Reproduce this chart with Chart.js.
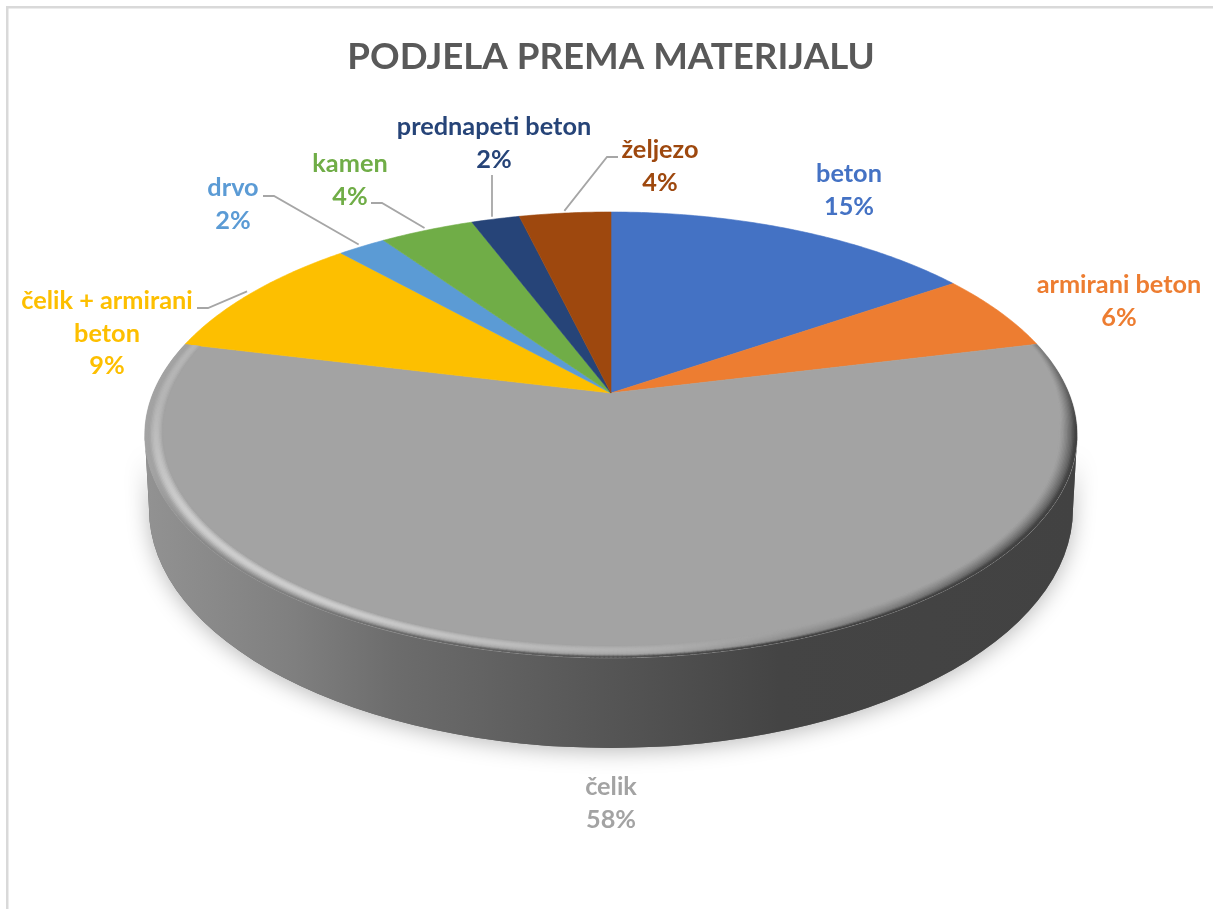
<!DOCTYPE html>
<html>
<head>
<meta charset="utf-8">
<title>Podjela prema materijalu</title>
<script src="https://cdn.jsdelivr.net/npm/chart.js@4/dist/chart.umd.js"></script>
<style>
    html, body { margin: 0; padding: 0; background: #fff; }
    #wrap { width: 1213px; height: 909px; }
</style>
</head>
<body>
<div id="wrap"><canvas id="pieChart" width="1213" height="909"></canvas></div>
<script>
// Chart data
const titleText = 'PODJELA PREMA MATERIJALU';
const categories = ['beton', 'armirani beton', 'čelik', 'čelik + armirani beton', 'drvo', 'kamen', 'prednapeti beton', 'željezo'];
const values = [15.45, 5.7, 57.5, 9.45, 2.0, 3.9, 2.0, 3.8];
const percentLabels = ['15%', '6%', '58%', '9%', '2%', '4%', '2%', '4%'];
const sliceColors = ['#4472c4', '#ed7d31', '#a3a3a3', '#fdbf00', '#5b9bd5', '#70ad47', '#264478', '#9e480e'];

// Label layout: text centre of first line, wrapped lines, leader knee points
const labelLayout = [
    { x: 849, y: 174, lines: ['beton'] },
    { x: 1119, y: 285, lines: ['armirani beton'] },
    { x: 611, y: 787, lines: ['čelik'] },
    { x: 107, y: 301, lines: ['čelik + armirani', 'beton'], knee: [[197, 308], [208, 308]] },
    { x: 233, y: 188, lines: ['drvo'], knee: [[263, 196], [274, 196]] },
    { x: 350, y: 164, lines: ['kamen'], knee: [[371, 203], [382, 203]] },
    { x: 494, y: 127, lines: ['prednapeti beton'], knee: [[492, 175], [492, 175]], vertical: true },
    { x: 660, y: 150, lines: ['željezo'], knee: [[618, 157], [607, 157]] }
];

// Perspective of the disc, relative to the library's outer radius
const persp = { sx: 1.563, sy: 0.734, k: 0.188 };
const rimWidth = 0.034;

function project(arc, angle, r) {
    const R = arc.outerRadius;
    const u = Math.cos(angle) * r;
    const v = Math.sin(angle) * r;
    const d = 1 - persp.k * v;
    return [arc.x + R * persp.sx * u / d, arc.y + R * persp.sy * v / d];
}

function clamp01(x) {
    return Math.max(0, Math.min(1, x));
}

function sidePaint(ctx) {
    const g = ctx.createLinearGradient(145, 0, 1078, 0);
    g.addColorStop(0, '#929292');
    g.addColorStop(0.16, '#7f7f7f');
    g.addColorStop(0.27, '#6c6c6c');
    g.addColorStop(0.49, '#565656');
    g.addColorStop(0.68, '#444444');
    g.addColorStop(1, '#424242');
    return g;
}

function sideGrey(x) {
    const stops = [[145, 146], [294, 127], [397, 108], [602, 86], [779, 68], [1078, 66]];
    for (let i = 1; i < stops.length; i++) {
        if (x <= stops[i][0]) {
            const t = (x - stops[i - 1][0]) / (stops[i][0] - stops[i - 1][0]);
            return stops[i - 1][1] + t * (stops[i][1] - stops[i - 1][1]);
        }
    }
    return 66;
}

function sidePath(ctx, arc) {
    // front of the top rim, right to left, then back along the lower rim
    const from = Math.asin(persp.k);
    const to = Math.PI - from;
    ctx.beginPath();
    for (let a = from; a <= to; a += 0.02) {
        const p = project(arc, a, 1);
        ctx.lineTo(p[0], p[1]);
    }
    const end = project(arc, to, 1);
    ctx.lineTo(end[0], end[1]);
    ctx.ellipse(arc.x, arc.y + 116, 462, 239, 0, Math.PI, 0, true);
    ctx.closePath();
}

function drawSide(ctx, arc) {
    ctx.save();
    ctx.shadowColor = 'rgba(0, 0, 0, 0.28)';
    ctx.shadowBlur = 22;
    ctx.shadowOffsetY = 3;
    ctx.fillStyle = '#666';
    sidePath(ctx, arc);
    ctx.fill();
    ctx.restore();

    ctx.fillStyle = sidePaint(ctx);
    sidePath(ctx, arc);
    ctx.fill();
}

function slicePath(ctx, arc) {
    ctx.beginPath();
    ctx.moveTo(arc.x, arc.y);
    const steps = Math.max(6, Math.ceil((arc.endAngle - arc.startAngle) / 0.01));
    for (let i = 0; i <= steps; i++) {
        const a = arc.startAngle + (arc.endAngle - arc.startAngle) * i / steps;
        const p = project(arc, a, 1);
        ctx.lineTo(p[0], p[1]);
    }
    ctx.closePath();
}

function drawSlice(ctx, arc, color) {
    ctx.fillStyle = color;
    ctx.strokeStyle = color;
    ctx.lineWidth = 0.6;
    slicePath(ctx, arc);
    ctx.fill();
    ctx.stroke();
}

// Rounded rim on the grey slice: light towards front left, dark on the right
function drawBevel(ctx, arc) {
    const rings = 12;
    const base = 163;
    const segs = Math.ceil((arc.endAngle - arc.startAngle) / 0.008);
    ctx.save();
    slicePath(ctx, arc);
    ctx.clip();
    ctx.lineCap = 'round';
    ctx.lineWidth = 2;
    // inner rings first so each outer ring covers the overlap cleanly
    for (let i = 0; i <= rings; i++) {
        const t = i / rings;
        const r = 1 - rimWidth * (1 - t) - 0.002;
        for (let s = 0; s < segs; s++) {
            const a0 = arc.startAngle + (arc.endAngle - arc.startAngle) * s / segs;
            const a1 = arc.startAngle + (arc.endAngle - arc.startAngle) * (s + 1) / segs;
            const deg = ((a0 + Math.PI / 2) * 180 / Math.PI + 360) % 360;
            let lit = 0;
            if (deg > 160 && deg <= 210) lit = (deg - 160) / 50;
            else if (deg > 210 && deg <= 240) lit = 1;
            else if (deg > 240) lit = Math.max(0.45, 1 - (deg - 240) / 50);
            // dark band thins out towards the back of the disc
            const width = 0.35 + 0.65 * clamp01((deg - 78) / 22);
            const dark = clamp01((175 - deg) / 45) * width;
            const sideShow = clamp01((deg - 92) / 12) * clamp01((250 - deg) / 16);
            if (t < 1 - width) continue;
            const p0 = project(arc, a0, r);
            const p1 = project(arc, a1, r);
            const edge = sideGrey(p0[0]);
            let g = base + (205 - base) * lit * Math.sin(Math.PI * Math.min(t * 1.25, 1));
            g = g + (68 - g) * dark * Math.pow((t - (1 - width)) / width, 1.3);
            if (t > 0.8) g = g + (edge - g) * (t - 0.8) / 0.2 * sideShow;
            const c = Math.round(g);
            ctx.strokeStyle = `rgb(${c},${c},${c})`;
            ctx.beginPath();
            ctx.moveTo(p0[0], p0[1]);
            ctx.lineTo(p1[0], p1[1]);
            ctx.stroke();
        }
    }
    ctx.restore();
}

function drawLabels(ctx, arcs) {
    ctx.textAlign = 'center';
    ctx.textBaseline = 'middle';
    ctx.font = 'bold 25.3px Lato';
    labelLayout.forEach((item, i) => {
        const arc = arcs[i];
        if (item.knee) {
            const mid = (arc.startAngle + arc.endAngle) / 2;
            const end = project(arc, mid, 1.015);
            ctx.strokeStyle = '#a6a6a6';
            ctx.lineWidth = 1.8;
            ctx.lineCap = 'butt';
            ctx.beginPath();
            ctx.moveTo(item.knee[0][0], item.knee[0][1]);
            ctx.lineTo(item.knee[1][0], item.knee[1][1]);
            ctx.lineTo(item.vertical ? item.knee[1][0] : end[0], end[1]);
            ctx.stroke();
        }
        ctx.fillStyle = sliceColors[i];
        const rows = item.lines.concat(percentLabels[i]);
        rows.forEach((row, n) => {
            ctx.fillText(row, item.x, item.y + n * 32.5);
        });
    });
}

// Draws the disc from the library's arc angles instead of the flat pie
const discPlugin = {
    id: 'disc',
    beforeDraw(chart) {
        const ctx = chart.ctx;
        ctx.save();
        ctx.fillStyle = '#d9d9d9';
        ctx.fillRect(6, 6, chart.width - 6, 2.5);
        ctx.fillRect(6, 6, 2.5, chart.height - 6);
        ctx.restore();
    },
    beforeDatasetDraw(chart) {
        const ctx = chart.ctx;
        const arcs = chart.getDatasetMeta(0).data;
        ctx.save();
        drawSide(ctx, arcs[0]);
        arcs.forEach((arc, i) => drawSlice(ctx, arc, sliceColors[i]));
        drawBevel(ctx, arcs[2]);
        drawLabels(ctx, arcs);
        ctx.restore();
        return false;
    }
};

const chart = new Chart(document.getElementById('pieChart').getContext('2d'), {
    type: 'pie',
    data: {
        labels: categories,
        datasets: [{
            data: values,
            backgroundColor: sliceColors,
            borderWidth: 0
        }]
    },
    options: {
        responsive: false,
        animation: false,
        layout: { padding: { top: 35, bottom: 223, left: 9, right: 0 } },
        plugins: {
            legend: { display: false },
            tooltip: { enabled: false },
            title: {
                display: true,
                text: titleText,
                color: '#595959',
                font: { family: 'Lato', size: 36.7, weight: 'bold', lineHeight: 1.2 },
                padding: { top: 0, bottom: 21 }
            }
        }
    },
    plugins: [discPlugin]
});
</script>
</body>
</html>
